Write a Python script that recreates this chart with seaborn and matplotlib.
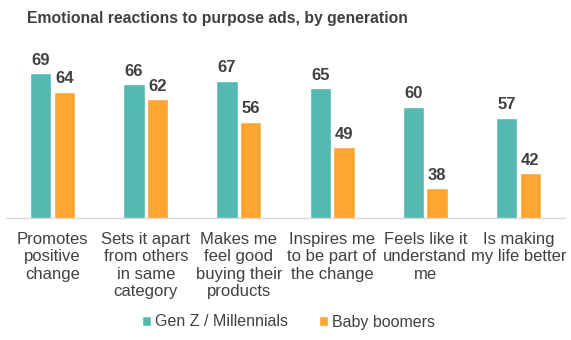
import matplotlib
matplotlib.use("Agg")
import matplotlib.pyplot as plt
import seaborn as sns
import pandas as pd

categories = ["Promotes\npositive\nchange",
              "Sets it apart\nfrom others\nin same\ncategory",
              "Makes me\nfeel good\nbuying their\nproducts",
              "Inspires me\nto be part of\nthe change",
              "Feels like it\nunderstand\nme",
              "Is making\nmy life better"]
genz = [69, 66, 67, 65, 60, 57]
boomers = [64, 62, 56, 49, 38, 42]
series = ["Gen Z / Millennials", "Baby boomers"]
colors = ["#55B9B1", "#FFA531"]

df = pd.DataFrame({
    "category": categories * 2,
    "value": genz + boomers,
    "series": [series[0]] * len(categories) + [series[1]] * len(categories),
})

sns.set_style("white")
plt.rcParams["font.family"] = ["Liberation Sans", "DejaVu Sans"]

fig = plt.figure(figsize=(5.71, 3.40), dpi=100)
ax = fig.add_axes([6 / 571, 1 - 218 / 340, 559 / 571, (218 - 51) / 340])

sns.barplot(data=df, x="category", y="value", hue="series", palette=colors,
            width=0.51, gap=0.1, ax=ax, legend=True, saturation=1)

ax.set_ylim(30, 75)
ax.set_xlim(-0.5, len(categories) - 0.5)
for c in ax.containers:
    ax.bar_label(c, fmt="%d", padding=4, fontsize=12, fontweight="bold", color="#404040")

for s in ["top", "right", "left"]:
    ax.spines[s].set_visible(False)
ax.spines["bottom"].set_color("#D9D9D9")
ax.spines["bottom"].set_linewidth(1)
ax.set_yticks([])
ax.set_xlabel("")
ax.set_ylabel("")
ax.tick_params(axis="x", length=0, pad=10, labelsize=12, labelcolor="#404040")
for t in ax.get_xticklabels():
    t.set_linespacing(1.2)

ax.legend(loc="center", bbox_to_anchor=(0.505, 1 - 322 / 340), bbox_transform=fig.transFigure,
          ncol=2, frameon=False, fontsize=11.5, handlelength=0.6, handleheight=0.6,
          handletextpad=0.25, columnspacing=1.9, labelcolor="#404040")

fig.text(27 / 571, 1 - 18 / 340, "Emotional reactions to purpose ads, by generation",
         fontsize=11.3, fontweight="bold", color="#404040", va="center", ha="left")

fig.savefig("out.png", dpi=100)
